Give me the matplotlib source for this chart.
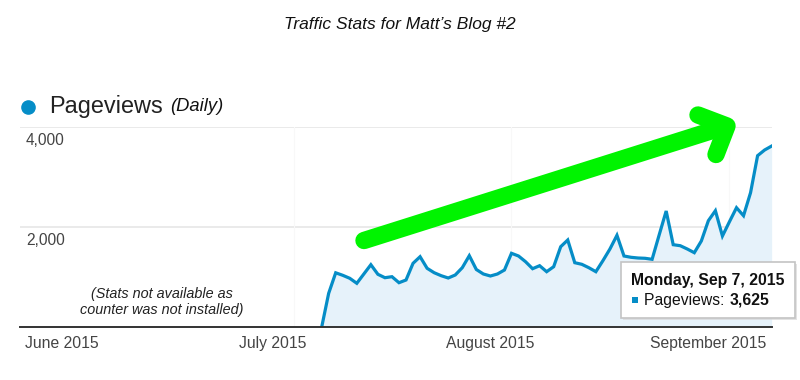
import matplotlib
matplotlib.use("Agg")
import matplotlib.pyplot as plt
import matplotlib.dates as mdates
from matplotlib.lines import Line2D
from matplotlib.patches import Rectangle
from matplotlib.transforms import ScaledTranslation
import pandas as pd

plt.rcParams['font.family'] = ['Liberation Sans', 'DejaVu Sans']

# ---- data ----
start_date = "2015-07-05"
pageviews = [0, 680, 1090, 1040, 980, 880, 1066, 1252, 1060, 992,
             1012, 892, 946, 1280, 1412, 1180, 1092, 1032, 986, 1046,
             1192, 1432, 1156, 1066, 1026, 1066, 1146, 1480, 1426, 1312,
             1172, 1232, 1112, 1212, 1612, 1746, 1292, 1260, 1192, 1112,
             1332, 1566, 1840, 1426, 1400, 1386, 1380, 1360, 1846, 2326,
             1652, 1632, 1566, 1492, 1726, 2132, 2332, 1826, 2112, 2392,
             2232, 2692, 3432, 3546, 3625]
month_starts = ["2015-06-01", "2015-07-01", "2015-08-01", "2015-09-01"]
month_labels = ["June 2015", "July 2015", "August 2015", "September 2015"]
y_ticks = [2000, 4000]
y_tick_labels = ["2,000", "4,000"]
title = "Traffic Stats for Matt\u2019s Blog #2"
tooltip_date = "Monday, Sep 7, 2015"
tooltip_value = "3,625"

dates = pd.date_range(start_date, periods=len(pageviews))
x = mdates.date2num(dates)
mx = mdates.date2num(pd.to_datetime(month_starts))

W, H = 800, 380
fig = plt.figure(figsize=(8, 3.8), dpi=100)
ax = fig.add_axes([20 / W, 52.7 / H, 752 / W, 200 / H])

blue = "#058dc7"
ax.fill_between(x, pageviews, 0, color="#e6f2fa", zorder=1, lw=0)
ax.plot(x, pageviews, color=blue, lw=2.3, zorder=3, solid_joinstyle="miter")

x0 = x[0]
ax.set_xlim(x0 - 42.9, x0 + 64.05)
ax.set_ylim(0, 4000)

for s in ["top", "left", "right"]:
    ax.spines[s].set_visible(False)
ax.spines["bottom"].set_color("#333333")
ax.spines["bottom"].set_linewidth(1.4)
ax.spines["bottom"].set_zorder(5)

# gridlines
for yv in y_ticks:
    ax.axhline(yv, color="#e6e6e6", lw=1.2, zorder=0)
for m in mx[1:]:
    ax.axvline(m, color="#f8f8f8", lw=0.8, zorder=0)

# y labels inside the plot
ax.set_yticks([])
for yv, lab in zip(y_ticks, y_tick_labels):
    ax.text(6 / 752, yv, lab, ha="left", va="top", fontsize=11.2,
            color="#444444", zorder=6,
            transform=ax.get_yaxis_transform() +
            ScaledTranslation(0, -0.055, fig.dpi_scale_trans))

# x labels
ax.set_xticks(mx)
ax.set_xticklabels(month_labels, fontsize=11.3, color="#444444")
ax.tick_params(axis="x", length=0, pad=6)
offset = ScaledTranslation(-0.21, 0, fig.dpi_scale_trans)
for lbl in ax.get_xticklabels():
    lbl.set_transform(lbl.get_transform() + offset)

# title
fig.text(400 / W, 1 - 25 / H, title, ha="center", va="center",
         fontsize=12.5, style="italic", color="#111111")

# legend
fig.add_artist(Line2D([28 / W], [1 - 106.5 / H], transform=fig.transFigure,
                      marker="o", markersize=9.5, color=blue, lw=0))
fig.text(49 / W, 1 - 106.5 / H, "Pageviews", ha="left", va="center",
         fontsize=16.9, color="#222222")
fig.text(170 / W, 1 - 106.5 / H, "(Daily)", ha="left", va="center",
         fontsize=13.2, style="italic", color="#111111")

# annotation
fig.text(162 / W, 1 - 302 / H, "(Stats not available as\ncounter was not installed)",
         ha="center", va="center", fontsize=10.4, style="italic",
         color="#222222", linespacing=1.15)

# green arrow (overlay)
green = "#00f400"
lw_arrow = 12.5
fig.add_artist(Line2D([364 / W, 725 / W], [1 - 240.5 / H, 1 - 126.5 / H],
                      transform=fig.transFigure, color=green, lw=lw_arrow,
                      solid_capstyle="round", solid_joinstyle="round", zorder=10))
fig.add_artist(Line2D([698 / W, 727 / W, 716 / W],
                      [1 - 115 / H, 1 - 126 / H, 1 - 154.5 / H],
                      transform=fig.transFigure, color=green, lw=lw_arrow,
                      solid_capstyle="round", solid_joinstyle="round", zorder=10))

# tooltip
bx, by, bw, bh = 621, 262, 174, 56
shadow = Rectangle(((bx + 2) / W, 1 - (by + bh + 2) / H), bw / W, bh / H,
                   transform=fig.transFigure, facecolor="#d8d8d8",
                   edgecolor="none", zorder=11, alpha=0.7)
fig.add_artist(shadow)
box = Rectangle((bx / W, 1 - (by + bh) / H), bw / W, bh / H,
                transform=fig.transFigure, facecolor="white",
                edgecolor="#c4c4c4", lw=1.2, zorder=12)
fig.add_artist(box)
fig.text(631 / W, 1 - 280 / H, tooltip_date, ha="left", va="center",
         fontsize=11.3, fontweight="bold", color="#111111", zorder=13)
fig.add_artist(Rectangle((632 / W, 1 - 303 / H), 6 / W, 6 / H,
                         transform=fig.transFigure, facecolor=blue,
                         edgecolor="none", zorder=13))
fig.text(644 / W, 1 - 300 / H, "Pageviews: ", ha="left", va="center",
         fontsize=11.3, color="#111111", zorder=13)
fig.text(730 / W, 1 - 300 / H, tooltip_value, ha="left", va="center",
         fontsize=11.3, fontweight="bold", color="#111111", zorder=13)

fig.savefig("out.png", dpi=100)
